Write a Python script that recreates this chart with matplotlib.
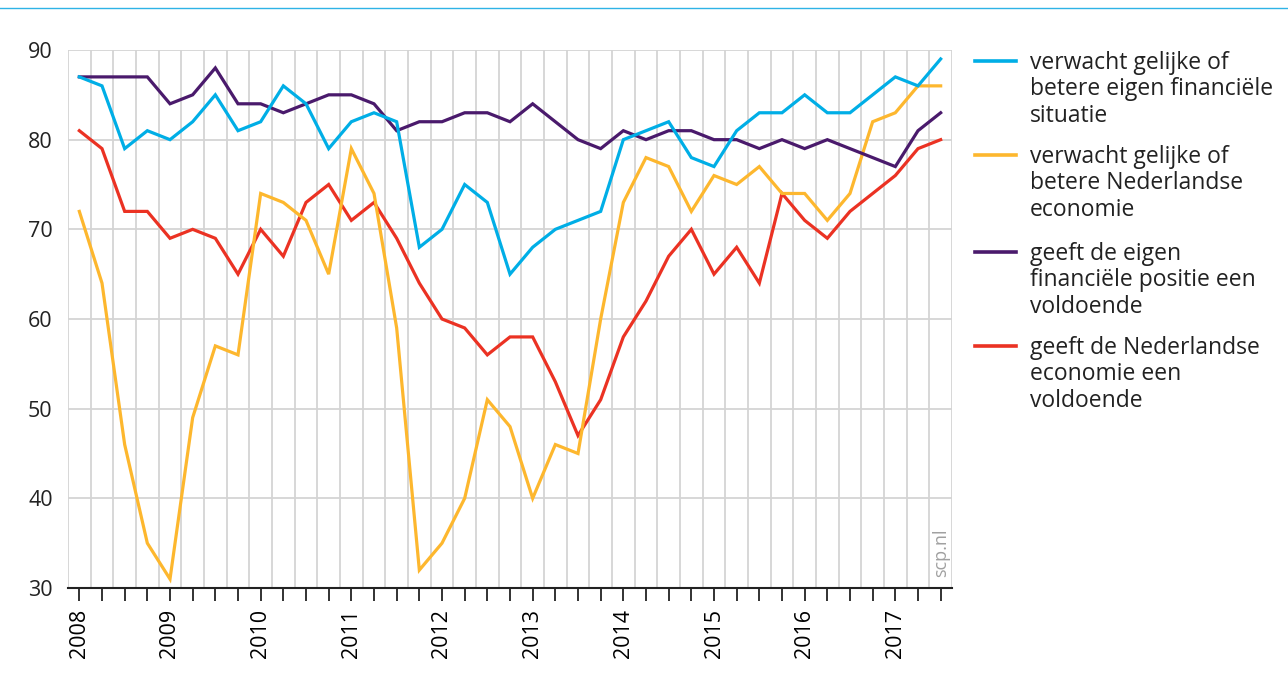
import matplotlib
matplotlib.use("Agg")
import matplotlib.pyplot as plt
from matplotlib.lines import Line2D
import numpy as np

plt.rcParams['font.family'] = ['Open Sans', 'DejaVu Sans']

# quarterly, 2008 Q1 .. 2017 Q3
years = ['2008', '2009', '2010', '2011', '2012', '2013', '2014', '2015', '2016', '2017']

eigen_situatie = [87, 86, 79, 81, 80, 82, 85, 81, 82, 86, 84, 79, 82, 83, 82, 68, 70, 75, 73, 65,
                  68, 70, 71, 72, 80, 81, 82, 78, 77, 81, 83, 83, 85, 83, 83, 85, 87, 86, 89]
nl_economie = [72, 64, 46, 35, 31, 49, 57, 56, 74, 73, 71, 65, 79, 74, 59, 32, 35, 40, 51, 48,
               40, 46, 45, 60, 73, 78, 77, 72, 76, 75, 77, 74, 74, 71, 74, 82, 83, 86, 86]
eigen_voldoende = [87, 87, 87, 87, 84, 85, 88, 84, 84, 83, 84, 85, 85, 84, 81, 82, 82, 83, 83, 82,
                   84, 82, 80, 79, 81, 80, 81, 81, 80, 80, 79, 80, 79, 80, 79, 78, 77, 81, 83]
nl_voldoende = [81, 79, 72, 72, 69, 70, 69, 65, 70, 67, 73, 75, 71, 73, 69, 64, 60, 59, 56, 58,
                58, 53, 47, 51, 58, 62, 67, 70, 65, 68, 64, 74, 71, 69, 72, 74, 76, 79, 80]

labels = ['verwacht gelijke of\nbetere eigen financiële\nsituatie',
          'verwacht gelijke of\nbetere Nederlandse\neconomie',
          'geeft de eigen\nfinanciële positie een\nvoldoende',
          'geeft de Nederlandse\neconomie een\nvoldoende']
colors = ['#00aee6', '#fdb72e', '#4a1a6c', '#eb3223']
series = [eigen_situatie, nl_economie, eigen_voldoende, nl_voldoende]

fig = plt.figure(figsize=(12.88, 6.84), dpi=100)
ax = fig.add_axes([68 / 1288, 1 - 588 / 684, (952 - 68) / 1288, (588 - 50) / 684])

x = np.arange(len(eigen_situatie))
# red first, then the others on top
for idx in [3, 1, 2, 0]:
    ax.plot(x, series[idx], color=colors[idx], lw=2.3, solid_joinstyle='miter', zorder=3)

ax.set_xlim(-0.5, len(x) - 0.5)
ax.set_ylim(30, 90)
ax.set_yticks(range(30, 91, 10))
ax.set_xticks(x)
ax.set_xticklabels([years[i // 4] if i % 4 == 0 else '' for i in x], rotation=90, fontsize=15.5)
ax.set_xticks(np.arange(-0.5, len(x), 1), minor=True)

ax.grid(True, which='minor', axis='x', color='#d4d4d4', lw=1.3)
ax.grid(True, which='major', axis='y', color='#d4d4d4', lw=1.3)
ax.grid(False, which='major', axis='x')
ax.tick_params(axis='y', length=0, labelsize=15.5, pad=11, colors='#222222')
ax.tick_params(axis='x', which='major', length=9, width=1.3, color='#222222', pad=6)
ax.tick_params(axis='x', which='minor', length=0)
for s in ['left', 'right', 'top']:
    ax.spines[s].set_visible(False)
ax.spines['bottom'].set_color('#222222')
ax.spines['bottom'].set_linewidth(1.5)
ax.set_axisbelow(True)

ax.text(0.988, 0.02, 'scp.nl', transform=ax.transAxes, rotation=90, ha='center', va='bottom',
        fontsize=13, color='#a0a0a0')

# legend drawn by hand so the handle sits on the first line
leg_y = [61, 155, 252, 346]
for lab, c, yy in zip(labels, colors, leg_y):
    fy = 1 - yy / 684
    fig.add_artist(Line2D([975 / 1288, 1016 / 1288], [fy, fy], color=c, lw=2.6))
    fig.text(1030 / 1288, fy + 10 / 684, lab, ha='left', va='top', fontsize=16.5,
             color='#222222', linespacing=1.13)

# thin blue rule at the top
fig.add_artist(Line2D([0, 1], [1 - 8 / 684, 1 - 8 / 684], color='#2fb3e6', lw=1))

fig.savefig('out.png', dpi=100)
